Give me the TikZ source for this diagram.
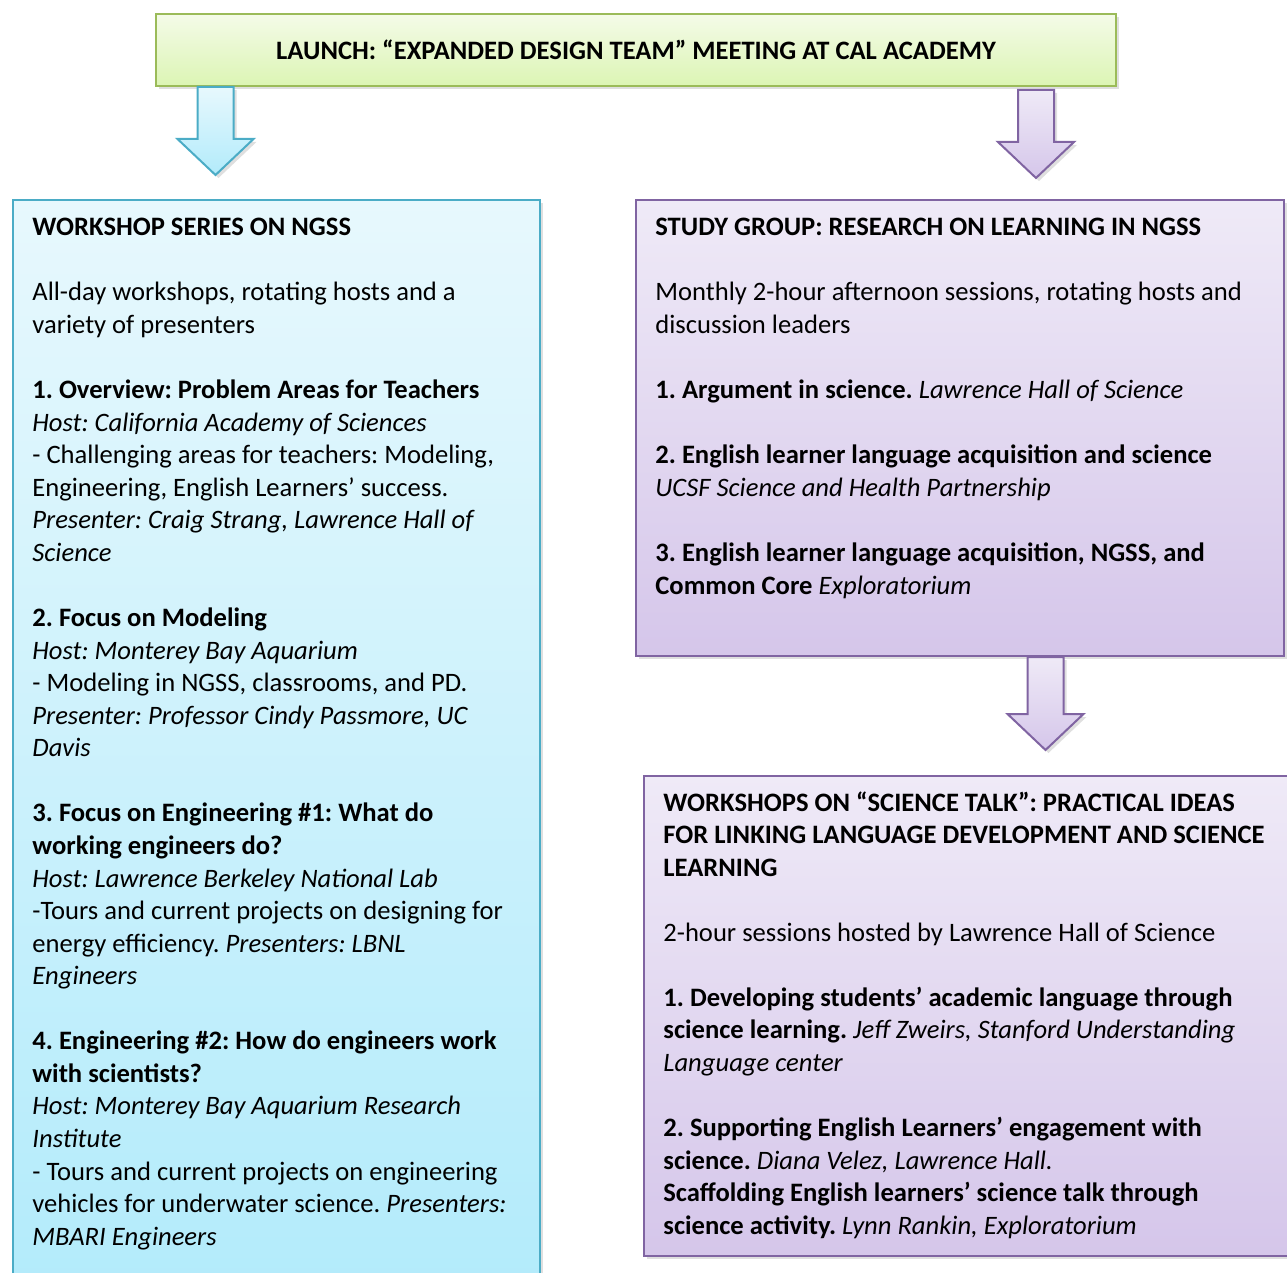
\documentclass[tikz,border=0pt]{standalone}
\usepackage{fontspec}
\setmainfont{Carlito}
\frenchspacing
\usetikzlibrary{calc,positioning,shadows}
\definecolor{greenline}{HTML}{9BBB59}
\definecolor{greentop}{HTML}{F4FBE8}
\definecolor{greenbot}{HTML}{DCF5B4}
\definecolor{blueline}{HTML}{4BACC6}
\definecolor{bluetop}{HTML}{E7F8FD}
\definecolor{bluebot}{HTML}{B2EBFB}
\definecolor{purpline}{HTML}{8064A2}
\definecolor{purptop}{HTML}{EFEAF7}
\definecolor{purpbot}{HTML}{D5C6EA}
\newcommand{\boxfont}{\fontsize{13.3}{16.28}\selectfont}
\newcommand{\blockarrow}[3]{%
  \draw[#1] ($(#2)+(-18,0)$) -- ($(#3)+(-18,36)$) -- ($(#3)+(-38,36)$) -- (#3)
    -- ($(#3)+(38,36)$) -- ($(#3)+(18,36)$) -- ($(#2)+(18,0)$) -- cycle;}
\tikzset{
    myshadow/.style={drop shadow={shadow xshift=1.5pt,shadow yshift=-1.5pt,opacity=0.25}},
    mybox/.style={draw,line width=1pt,inner sep=0pt,anchor=north west,myshadow},
    greenbox/.style={mybox,draw=greenline,top color=greentop,bottom color=greenbot},
    bluebox/.style={mybox,draw=blueline,top color=bluetop,bottom color=bluebot},
    purpbox/.style={mybox,draw=purpline,top color=purptop,bottom color=purpbot},
    bluearrow/.style={draw=blueline,line width=1pt,top color=bluetop,bottom color=bluebot,myshadow},
    purparrow/.style={draw=purpline,line width=1pt,top color=purptop,bottom color=purpbot,myshadow},
    mytext/.style={anchor=north west,inner sep=0pt,align=left,font=\boxfont}
}
\begin{document}
\begin{tikzpicture}[x=0.5pt,y=0.5pt]
  \useasboundingbox (0,0) rectangle (1287,-1273);

  \node[greenbox,minimum width=480pt,minimum height=36pt,font=\boxfont\bfseries]
    (launch) at (155,-13) {LAUNCH: “EXPANDED DESIGN TEAM” MEETING AT CAL ACADEMY};

  \node[bluebox,minimum width=263.5pt,minimum height=555pt] (ws) at (12,-199) {};
  \node[purpbox,minimum width=324pt,minimum height=228pt] (sg) at (635,-199) {};
  \node[purpbox,minimum width=330pt,minimum height=240pt] (st) at (643,-775) {};

  \coordinate (a1) at (215.5,-175);
  \coordinate (a2) at (1036,-178);
  \coordinate (a3) at (1045.5,-750);
  \coordinate (a1s) at (launch.south -| a1);
  \coordinate (a2s) at ($(launch.south -| a2)+(0,-3)$);
  \coordinate (a3s) at (sg.south -| a3);

  \blockarrow{bluearrow}{a1s}{a1}
  \blockarrow{purparrow}{a2s}{a2}
  \blockarrow{purparrow}{a3s}{a3}

  \node[mytext] (wstext) at (32,-218) {%
    \textbf{WORKSHOP SERIES ON NGSS}\\[16.28pt]
    All-day workshops, rotating hosts and a\\
    variety of presenters\\[16.28pt]
    \textbf{1. Overview: Problem Areas for Teachers}\\
    \textit{Host: California Academy of Sciences}\\
    - Challenging areas for teachers: Modeling,\\
    Engineering, English Learners’ success.\\
    \textit{Presenter: Craig Strang, Lawrence Hall of}\\
    \textit{Science}\\[16.28pt]
    \textbf{2. Focus on Modeling}\\
    \textit{Host: Monterey Bay Aquarium}\\
    - Modeling in NGSS, classrooms, and PD.\\
    \textit{Presenter: Professor Cindy Passmore, UC}\\
    \textit{Davis}\\[16.28pt]
    \textbf{3. Focus on Engineering \#1: What do}\\
    \textbf{working engineers do?}\\
    \textit{Host: Lawrence Berkeley National Lab}\\
    -Tours and current projects on designing for\\
    energy efficiency. \textit{Presenters: LBNL}\\
    \textit{Engineers}\\[16.28pt]
    \textbf{4. Engineering \#2: How do engineers work}\\
    \textbf{with scientists?}\\
    \textit{Host: Monterey Bay Aquarium Research}\\
    \textit{Institute}\\
    - Tours and current projects on engineering\\
    vehicles for underwater science. \textit{Presenters:}\\
    \textit{MBARI Engineers}};

  \node[mytext] (sgtext) at (655,-218) {%
    \textbf{STUDY GROUP: RESEARCH ON LEARNING IN NGSS}\\[16.28pt]
    Monthly 2-hour afternoon sessions, rotating hosts and\\
    discussion leaders\\[16.28pt]
    \textbf{1. Argument in science.} \textit{Lawrence Hall of Science}\\[16.28pt]
    \textbf{2. English learner language acquisition and science}\\
    \textit{UCSF Science and Health Partnership}\\[16.28pt]
    \textbf{3. English learner language acquisition, NGSS, and}\\
    \textbf{Common Core} \textit{Exploratorium}};

  \node[mytext] (sttext) at (663,-791) {%
    \textbf{WORKSHOPS ON “SCIENCE TALK”: PRACTICAL IDEAS}\\
    \textbf{FOR LINKING LANGUAGE DEVELOPMENT AND SCIENCE}\\
    \textbf{LEARNING}\\[16.28pt]
    2-hour sessions hosted by Lawrence Hall of Science\\[16.28pt]
    \textbf{1. Developing students’ academic language through}\\
    \textbf{science learning.} \textit{Jeff Zweirs, Stanford Understanding}\\
    \textit{Language center}\\[16.28pt]
    \textbf{2. Supporting English Learners’ engagement with}\\
    \textbf{science.} \textit{Diana Velez, Lawrence Hall.}\\
    \textbf{Scaffolding English learners’ science talk through}\\
    \textbf{science activity.} \textit{Lynn Rankin, Exploratorium}};
\end{tikzpicture}
\end{document}
